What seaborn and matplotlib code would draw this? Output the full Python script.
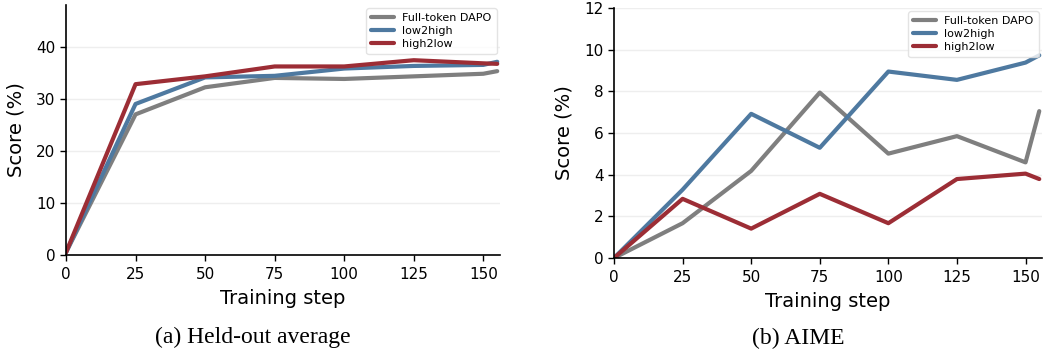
import pandas as pd
import matplotlib.pyplot as plt
import seaborn as sns

# Data
steps = [0, 25, 50, 75, 100, 125, 150, 155]
methods = ["Full-token DAPO", "low2high", "high2low"]

heldout_full = [0.5, 27.0, 32.2, 34.0, 33.8, 34.3, 34.8, 35.3]
heldout_low2high = [0.5, 29.0, 34.1, 34.4, 35.8, 36.3, 36.5, 37.1]
heldout_high2low = [0.5, 32.8, 34.3, 36.2, 36.2, 37.4, 36.8, 36.7]

aime_full = [0.0, 1.67, 4.18, 7.94, 5.01, 5.85, 4.59, 7.05]
aime_low2high = [0.0, 3.28, 6.92, 5.29, 8.95, 8.55, 9.38, 9.73]
aime_high2low = [0.0, 2.84, 1.41, 3.08, 1.67, 3.79, 4.05, 3.79]

palette = {"Full-token DAPO": "#7f7f7f", "low2high": "#4e79a0", "high2low": "#9c2d35"}


def long_form(series):
    rows = []
    for name, vals in zip(methods, series):
        for s, v in zip(steps, vals):
            rows.append({"step": s, "score": v, "method": name})
    return pd.DataFrame(rows)


heldout = long_form([heldout_full, heldout_low2high, heldout_high2low])
aime = long_form([aime_full, aime_low2high, aime_high2low])

sns.set_style("ticks")
plt.rcParams["font.family"] = ["DejaVu Sans"]
plt.rcParams["text.color"] = "black"
plt.rcParams["axes.labelcolor"] = "black"
plt.rcParams["xtick.color"] = "black"
plt.rcParams["ytick.color"] = "black"

fig = plt.figure(figsize=(10.5, 3.52), dpi=100)
ax1 = fig.add_axes([66 / 1050, 1 - 255 / 352, 434 / 1050, 250 / 352])
ax2 = fig.add_axes([614 / 1050, 1 - 258 / 352, 428 / 1050, 250 / 352])

panels = [
    (ax1, heldout, (0, 48), [0, 10, 20, 30, 40], "(a) Held-out average", 253, 337),
    (ax2, aime, (0, 12), [0, 2, 4, 6, 8, 10, 12], "(b) AIME", 798, 338),
]

for ax, df, ylim, yticks, caption, cx, cy in panels:
    sns.lineplot(data=df, x="step", y="score", hue="method", palette=palette,
                 linewidth=3, ax=ax)
    ax.set_xlim(0, 156)
    ax.set_ylim(*ylim)
    ax.set_xticks([0, 25, 50, 75, 100, 125, 150])
    ax.set_yticks(yticks)
    ax.tick_params(labelsize=11, length=4, width=1, color="black")
    ax.tick_params(axis="x", pad=4.5)
    ax.set_xlabel("Training step", fontsize=14, labelpad=5)
    ax.set_ylabel("Score (%)", fontsize=14, labelpad=7.5)
    ax.yaxis.grid(True, color="#eeeeee", linewidth=1)
    ax.set_axisbelow(True)
    for side in ["left", "bottom"]:
        ax.spines[side].set_color("black")
        ax.spines[side].set_linewidth(1.2)
    sns.despine(ax=ax)
    leg = ax.legend(loc="upper right", fontsize=8, frameon=True, fancybox=True,
                    borderpad=0.45, labelspacing=0.25, handlelength=2.0,
                    borderaxespad=0.3)
    leg.get_frame().set_edgecolor("#dddddd")
    for line in leg.get_lines():
        line.set_linewidth(3)
    fig.text(cx / 1050, 1 - cy / 352, caption, ha="center", va="center",
             fontsize=17, family="Liberation Serif")

plt.savefig("out.png", dpi=100)
